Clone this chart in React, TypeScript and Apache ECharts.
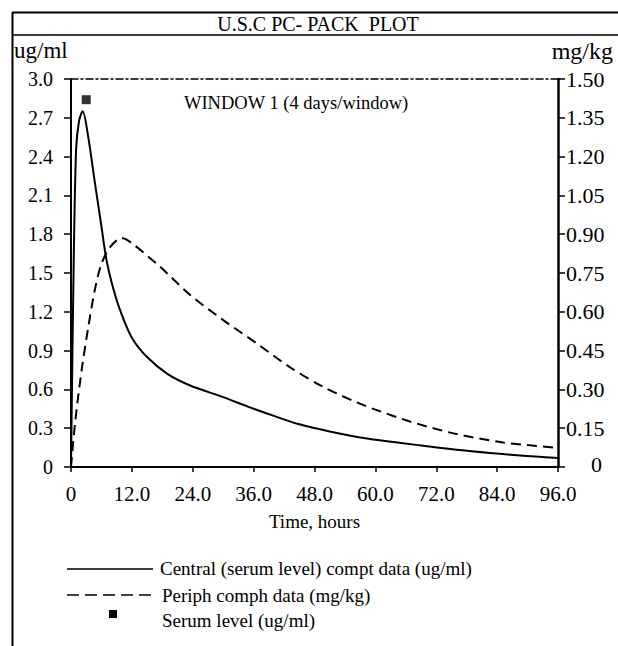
import React, { useEffect, useRef } from "react";
import * as echarts from "echarts";

const FONT = "'Liberation Serif', 'Times New Roman', serif";

// Time axis ticks (hours)
const timeTicks = [0, 12, 24, 36, 48, 60, 72, 84, 96];

// Central (serum level) compartment, ug/ml: [hours, value]
const centralData: [number, number][] = [
  [0, 0], [0.5, 1.5], [1.0, 2.45], [1.6, 2.68], [2.3, 2.75], [3.4, 2.55],
  [4.7, 2.2], [6.0, 1.86], [7.0, 1.6], [8.4, 1.37], [9.7, 1.21], [12.0, 1.0],
  [15.0, 0.85], [19.0, 0.72], [23.5, 0.63], [30.0, 0.54], [35.0, 0.465],
  [40.0, 0.395], [45.0, 0.33], [51.0, 0.275], [58.0, 0.222], [69.0, 0.167],
  [79.0, 0.122], [88.5, 0.089], [96.0, 0.07],
];

// Peripheral compartment, mg/kg: [hours, value]
const periphData: [number, number][] = [
  [0, 0], [0.8, 0.17], [2.1, 0.375], [3.4, 0.54], [4.7, 0.685], [6.0, 0.785],
  [7.7, 0.85], [10.0, 0.885], [12.0, 0.865], [17.5, 0.775], [23.5, 0.665],
  [30.0, 0.568], [36.6, 0.478], [43.2, 0.385], [49.7, 0.31], [56.3, 0.25],
  [60.0, 0.222], [66.8, 0.176], [75.4, 0.13], [85.2, 0.095], [96.0, 0.074],
];

// Measured serum level, ug/ml
const serumData: [number, number][] = [[3.0, 2.84]];

const legendLabels = [
  "Central (serum level) compt data (ug/ml)",
  "Periph comph data (mg/kg)",
  "Serum level (ug/ml)",
];

export default function App() {
  const ref = useRef<HTMLDivElement>(null);

  useEffect(() => {
    if (!ref.current) return;
    const chart = echarts.init(ref.current, null, { renderer: "svg" });
    const black = "#000";
    const textBase = { fontFamily: FONT, fill: black };
    chart.setOption({
      animation: false,
      backgroundColor: "#fff",
      grid: { left: 71, right: 60, top: 79, bottom: 179, containLabel: false },
      xAxis: [
        {
          type: "value",
          min: timeTicks[0],
          max: timeTicks[timeTicks.length - 1],
          interval: 12,
          position: "bottom",
          name: "Time, hours",
          nameLocation: "middle",
          nameGap: 45,
          nameTextStyle: { fontFamily: FONT, fontSize: 19, color: black },
          axisLine: { show: true, onZero: false, lineStyle: { color: black, width: 2 } },
          axisTick: { show: true, inside: false, length: 5, lineStyle: { color: black, width: 1.5 } },
          axisLabel: {
            margin: 16,
            fontFamily: FONT,
            fontSize: 21,
            color: black,
            formatter: (v: number) => (v === 0 ? "0" : v.toFixed(1)),
          },
          splitLine: { show: false },
        },
        {
          type: "value",
          min: timeTicks[0],
          max: timeTicks[timeTicks.length - 1],
          position: "top",
          axisLine: { show: true, onZero: false, lineStyle: { color: black, width: 1.5, type: [7, 3, 2, 3] } },
          axisTick: { show: false },
          axisLabel: { show: false },
          splitLine: { show: false },
        },
      ],
      yAxis: [
        {
          type: "value",
          position: "left",
          min: 0,
          max: 3,
          interval: 0.3,
          axisLine: { show: true, onZero: false, lineStyle: { color: black, width: 2 } },
          axisTick: { show: true, length: 7, lineStyle: { color: black, width: 1.5 } },
          axisLabel: {
            margin: 18,
            fontFamily: FONT,
            fontSize: 20,
            color: black,
            formatter: (v: number) => (v === 0 ? "0" : v.toFixed(1)),
          },
          splitLine: { show: false },
        },
        {
          type: "value",
          position: "right",
          min: 0,
          max: 1.5,
          interval: 0.15,
          axisLine: { show: true, onZero: false, lineStyle: { color: black, width: 2.5 } },
          axisTick: { show: true, length: 7, lineStyle: { color: black, width: 1.5 } },
          axisLabel: {
            margin: 8,
            fontFamily: FONT,
            fontSize: 22,
            color: black,
            formatter: (v: number) => (v === 0 ? "{z|0}" : v.toFixed(2)),
            rich: { z: { fontFamily: FONT, fontSize: 22, color: black, padding: [0, 0, 6, 25] } },
          },
          splitLine: { show: false },
        },
      ],
      series: [
        {
          name: legendLabels[0],
          type: "line",
          xAxisIndex: 0,
          yAxisIndex: 0,
          data: centralData,
          smooth: 0.3,
          showSymbol: false,
          symbol: "none",
          lineStyle: { color: black, width: 2 },
        },
        {
          name: legendLabels[1],
          type: "line",
          xAxisIndex: 0,
          yAxisIndex: 1,
          data: periphData,
          smooth: 0.3,
          showSymbol: false,
          symbol: "none",
          lineStyle: { color: black, width: 2, type: [10, 6] },
        },
        {
          name: legendLabels[2],
          type: "scatter",
          xAxisIndex: 0,
          yAxisIndex: 0,
          data: serumData,
          symbol: "rect",
          symbolSize: 9,
          itemStyle: { color: black },
        },
      ],
      graphic: [
        // outer frame
        { type: "line", shape: { x1: 12.5, y1: 12, x2: 12.5, y2: 646 }, style: { stroke: black, lineWidth: 2 } },
        { type: "line", shape: { x1: 12, y1: 12.5, x2: 618, y2: 12.5 }, style: { stroke: black, lineWidth: 2 } },
        { type: "line", shape: { x1: 12, y1: 35, x2: 618, y2: 35 }, style: { stroke: black, lineWidth: 1.5 } },
        // title
        { type: "text", x: 318, y: 24, style: { ...textBase, text: "U.S.C PC- PACK  PLOT", fontSize: 20, align: "center", verticalAlign: "middle" } },
        // axis units
        { type: "text", x: 14, y: 50, style: { ...textBase, text: "ug/ml", fontSize: 23, align: "left", verticalAlign: "middle" } },
        { type: "text", x: 613, y: 51, style: { ...textBase, text: "mg/kg", fontSize: 24, align: "right", verticalAlign: "middle" } },
        // window annotation
        { type: "text", x: 184, y: 103, style: { ...textBase, text: "WINDOW 1 (4 days/window)", fontSize: 18.5, align: "left", verticalAlign: "middle" } },
        // legend
        { type: "line", shape: { x1: 67, y1: 569, x2: 153, y2: 569 }, style: { stroke: black, lineWidth: 1.5 } },
        { type: "text", x: 160, y: 568, style: { ...textBase, text: legendLabels[0], fontSize: 19, align: "left", verticalAlign: "middle" } },
        { type: "line", shape: { x1: 67, y1: 595, x2: 153, y2: 595 }, style: { stroke: black, lineWidth: 1.5, lineDash: [12, 6] } },
        { type: "text", x: 162, y: 595, style: { ...textBase, text: legendLabels[1], fontSize: 19, align: "left", verticalAlign: "middle" } },
        { type: "rect", shape: { x: 109, y: 610, width: 8, height: 8 }, style: { fill: black } },
        { type: "text", x: 162, y: 620, style: { ...textBase, text: legendLabels[2], fontSize: 19, align: "left", verticalAlign: "middle" } },
      ],
    });
    return () => chart.dispose();
  }, []);

  return (
    <div
      ref={ref}
      style={{ position: "absolute", left: 0, top: 0, width: 618, height: 646, background: "#fff" }}
    />
  );
}
